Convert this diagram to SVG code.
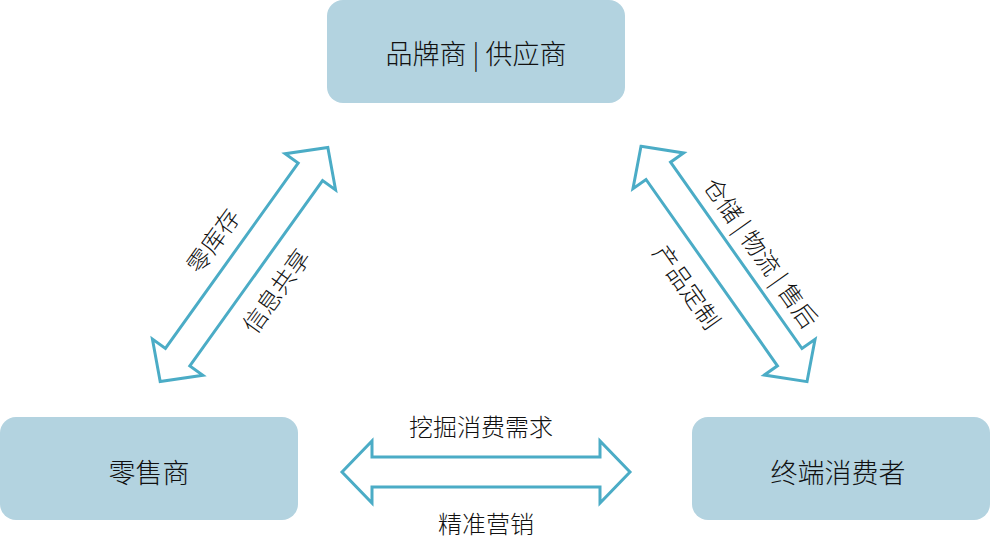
<svg xmlns="http://www.w3.org/2000/svg" width="990" height="551" viewBox="0 0 990 551">
<defs>
<style>
.box{fill:#b3d3e0}
.t{font-family:"Noto Sans CJK SC","Noto Sans",sans-serif;font-weight:300;fill:#111;text-anchor:middle;dominant-baseline:central}
.big{font-size:27px}
.lbl{font-size:24px}
.arr{fill:#fff;stroke:#4bacc6;stroke-width:3;stroke-linejoin:miter}
</style>
<path id="dbl" d="M-144,0 L-114,-31 L-114,-15 L114,-15 L114,-31 L144,0 L114,31 L114,15 L-114,15 L-114,31 Z"/>
</defs>
<rect width="990" height="551" fill="#fff"/>
<g id="connectors">
<use href="#dbl" class="arr" transform="translate(486,472)"/>
<use href="#dbl" class="arr" transform="translate(244,264.5) rotate(-54.4)"/>
<use href="#dbl" class="arr" transform="translate(724,264) rotate(54.8)"/>
<text class="t lbl" x="481" y="425">挖掘消费需求</text>
<text class="t lbl" x="486" y="522">精准营销</text>
<text class="t lbl" transform="translate(212,240) rotate(-54.4)">零库存</text>
<text class="t lbl" transform="translate(275,290) rotate(-54.4)">信息共享</text>
<text class="t lbl" transform="translate(762,252) rotate(54.8)">仓储 | 物流 | 售后</text>
<text class="t lbl" transform="translate(688,286) rotate(54.8)">产品定制</text>
</g>
<g id="brand">
<rect class="box" x="327" y="0" width="298" height="103" rx="16"/>
<text class="t big" x="476" y="52">品牌商 | 供应商</text>
</g>
<g id="retailer">
<rect class="box" x="0" y="417" width="298" height="103" rx="16"/>
<text class="t big" x="149" y="471">零售商</text>
</g>
<g id="consumer">
<rect class="box" x="692" y="417" width="298" height="103" rx="16"/>
<text class="t big" x="838" y="471">终端消费者</text>
</g>
</svg>
